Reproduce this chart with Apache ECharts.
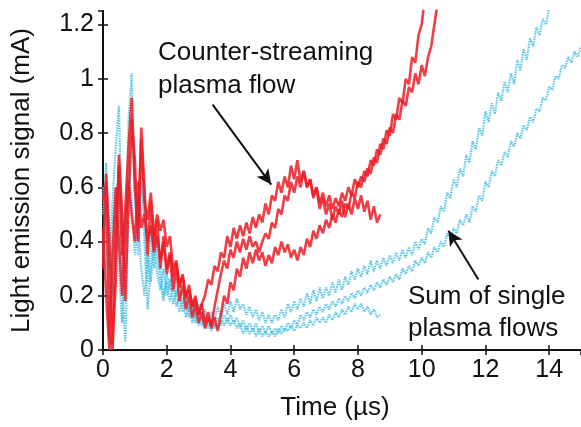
<!DOCTYPE html>
<html><head><meta charset="utf-8">
<script src="https://cdn.jsdelivr.net/npm/echarts@6/dist/echarts.min.js"></script>
<style>html,body{margin:0;padding:0;background:#fff}#c{width:581px;height:427px}</style>
</head><body><div id="c"></div>
<script>
// sample step of all traces (µs); every trace starts at t = 0
const DT = 0.1;
const xTicks = [0, 2, 4, 6, 8, 10, 12, 14];
const yTicks = [0, 0.2, 0.4, 0.6, 0.8, 1, 1.2];

// Counter-streaming plasma flow (red), three shots
const red1 = [
0.55,0.62,0.05,0.0,0.45,0.68,0.35,0.52,0.75,0.93,
0.6,0.45,0.78,0.55,0.48,0.58,0.42,0.5,0.44,0.48,
0.38,0.42,0.3,0.33,0.24,0.28,0.2,0.22,0.16,0.19,
0.13,0.17,0.2,0.26,0.24,0.31,0.29,0.36,0.34,0.42,
0.38,0.45,0.41,0.46,0.42,0.47,0.43,0.49,0.45,0.5,
0.47,0.54,0.5,0.57,0.55,0.62,0.58,0.64,0.6,0.68,
0.63,0.7,0.62,0.66,0.6,0.63,0.57,0.6,0.54,0.58,
0.53,0.57,0.52,0.56,0.53,0.58,0.55,0.6,0.57,0.63,
0.6,0.64,0.62,0.67,0.65,0.71,0.69,0.76,0.74,0.81,
0.79,0.87,0.85,0.93,0.91,1.0,0.98,1.08,1.06,1.16,
1.2,1.3];
const red2 = [
0.3,0.65,0.4,0.02,0.25,0.72,0.5,0.18,0.55,0.85,
0.7,0.4,0.82,0.6,0.35,0.55,0.38,0.48,0.3,0.42,
0.28,0.35,0.22,0.3,0.18,0.24,0.15,0.2,0.12,0.17,
0.1,0.14,0.08,0.12,0.09,0.16,0.22,0.28,0.33,0.3,
0.37,0.34,0.4,0.36,0.41,0.37,0.42,0.38,0.4,0.36,
0.4,0.43,0.41,0.47,0.45,0.52,0.5,0.57,0.55,0.62,
0.58,0.64,0.6,0.66,0.6,0.63,0.56,0.6,0.52,0.56,
0.5,0.54,0.48,0.53,0.5,0.55,0.49,0.54,0.5,0.56,
0.52,0.57,0.51,0.55,0.48,0.53,0.47,0.5];
const red3 = [
0.45,0.2,0.0,0.35,0.6,0.4,0.2,0.45,0.62,0.5,
0.4,0.62,0.45,0.5,0.4,0.46,0.36,0.42,0.33,0.4,
0.3,0.36,0.27,0.32,0.23,0.27,0.19,0.24,0.16,0.2,
0.13,0.17,0.1,0.14,0.08,0.12,0.07,0.13,0.2,0.17,
0.25,0.22,0.3,0.27,0.34,0.3,0.36,0.32,0.37,0.33,
0.36,0.31,0.35,0.32,0.38,0.35,0.4,0.36,0.39,0.34,
0.37,0.33,0.38,0.35,0.41,0.38,0.44,0.41,0.46,0.43,
0.48,0.45,0.5,0.47,0.52,0.49,0.54,0.52,0.58,0.56,
0.62,0.6,0.66,0.64,0.7,0.68,0.74,0.72,0.78,0.76,
0.82,0.8,0.87,0.85,0.92,0.9,0.97,0.95,1.02,0.98,
1.05,1.01,1.08,1.12,1.2,1.28];

// Sum of single plasma flows (cyan), three shots
const cyan1 = [
0.5,0.69,0.3,0.55,0.75,0.9,0.4,0.2,0.85,1.02,
0.55,0.4,0.71,0.4,0.15,0.3,0.45,0.35,0.25,0.18,
0.28,0.22,0.3,0.2,0.25,0.16,0.22,0.14,0.19,0.12,
0.17,0.11,0.15,0.1,0.14,0.11,0.16,0.12,0.17,0.13,
0.18,0.14,0.19,0.15,0.17,0.13,0.16,0.12,0.15,0.11,
0.14,0.1,0.13,0.1,0.13,0.11,0.15,0.12,0.17,0.14,
0.18,0.15,0.19,0.16,0.21,0.17,0.22,0.18,0.23,0.19,
0.23,0.2,0.25,0.21,0.26,0.22,0.27,0.24,0.29,0.26,
0.3,0.27,0.31,0.28,0.33,0.29,0.33,0.3,0.34,0.31,
0.35,0.32,0.36,0.33,0.37,0.34,0.38,0.35,0.4,0.37,
0.41,0.39,0.45,0.43,0.49,0.47,0.53,0.51,0.58,0.56,
0.63,0.6,0.67,0.64,0.72,0.69,0.77,0.74,0.82,0.79,
0.88,0.84,0.91,0.87,0.95,0.92,0.99,0.95,1.02,0.98,
1.07,1.03,1.11,1.07,1.15,1.12,1.19,1.16,1.22,1.2,
1.26,1.3];
const cyan2 = [
0.35,0.6,0.45,0.2,0.5,0.65,0.25,0.03,0.5,0.8,
0.6,0.35,0.62,0.5,0.25,0.45,0.3,0.42,0.3,0.2,
0.25,0.18,0.24,0.16,0.2,0.14,0.18,0.12,0.16,0.1,
0.14,0.09,0.12,0.08,0.11,0.08,0.12,0.09,0.13,0.1,
0.13,0.1,0.12,0.08,0.11,0.07,0.1,0.07,0.1,0.06,
0.09,0.06,0.09,0.06,0.08,0.06,0.09,0.07,0.1,0.08,
0.11,0.09,0.13,0.11,0.14,0.12,0.15,0.13,0.16,0.14,
0.17,0.15,0.18,0.16,0.19,0.17,0.2,0.18,0.21,0.19,
0.22,0.2,0.23,0.21,0.24,0.22,0.25,0.23,0.26,0.24,
0.27,0.25,0.28,0.26,0.3,0.28,0.31,0.29,0.33,0.31,
0.34,0.32,0.36,0.34,0.38,0.36,0.4,0.38,0.43,0.41,
0.45,0.43,0.48,0.46,0.5,0.47,0.53,0.51,0.57,0.55,
0.62,0.6,0.66,0.64,0.7,0.68,0.73,0.71,0.77,0.75,
0.8,0.78,0.83,0.81,0.86,0.84,0.89,0.88,0.93,0.92,
0.97,0.96,1.01,1.0,1.05,1.04,1.08,1.06,1.1,1.08,
1.12];
const cyan3 = [
0.6,0.4,0.15,0.45,0.6,0.3,0.1,0.35,0.7,0.55,
0.35,0.5,0.3,0.2,0.35,0.25,0.38,0.28,0.22,0.3,
0.2,0.26,0.17,0.22,0.14,0.19,0.12,0.16,0.1,0.14,
0.09,0.12,0.08,0.11,0.07,0.1,0.08,0.11,0.09,0.12,
0.09,0.11,0.08,0.1,0.06,0.09,0.06,0.08,0.05,0.08,
0.05,0.07,0.05,0.07,0.05,0.08,0.06,0.08,0.07,0.09,
0.07,0.09,0.08,0.1,0.08,0.11,0.09,0.12,0.1,0.12,
0.1,0.13,0.11,0.14,0.12,0.15,0.13,0.16,0.14,0.17,
0.15,0.17,0.14,0.16,0.13,0.15,0.12,0.13];

// annotation arrows in data coordinates: [tail, head]
const arrowCounter = [[3.44, 0.905], [5.28, 0.61]];
const arrowSum = [[11.78, 0.26], [10.84, 0.44]];

const RED = '#ec1c24', CYAN = '#4cc1e7';
const FONT = 'Liberation Sans';

function pairs(vals){ return vals.map((v,i)=>[Math.round(i*DT*100)/100, v]); }

function redSeries(vals){
  return {type:'line', data:pairs(vals), showSymbol:false, symbol:'none', animation:false,
    lineStyle:{color:RED, width:2.6, opacity:0.85, join:'bevel'}, z:3};
}
function cyanSeries(vals){
  return {type:'line', data:pairs(vals), showSymbol:false, symbol:'none', animation:false,
    lineStyle:{color:CYAN, width:2.2, type:[1.5,1], opacity:0.9}, z:2};
}

const axisCommon = {
  type:'value', min:0, splitLine:{show:false},
  axisLine:{show:true, lineStyle:{color:'#111', width:2}},
  axisTick:{show:true, inside:true, length:5, lineStyle:{color:'#111', width:1.5}}
};

const chart = echarts.init(document.getElementById('c'), null, {renderer:'canvas'});
const series = [cyanSeries(cyan1), cyanSeries(cyan2), cyanSeries(cyan3),
  redSeries(red1), redSeries(red2), redSeries(red3)];
series.push({type:'line', data:[], animation:false, silent:true,
  markLine:{silent:true, animation:false, symbol:['none','arrow'], symbolSize:[11,15],
    label:{show:false}, lineStyle:{color:'#111', width:2, type:'solid'},
    data:[[{coord:arrowCounter[0]},{coord:arrowCounter[1]}],[{coord:arrowSum[0]},{coord:arrowSum[1]}]]}});

chart.setOption({
  backgroundColor:'#fff',
  animation:false,
  grid:{left:103, top:11, width:480, height:339},
  xAxis:[
    Object.assign({}, axisCommon, {max:15, interval:2, position:'bottom',
      name:'Time (µs)', nameLocation:'middle', nameGap:45,
      nameTextStyle:{fontFamily:FONT, fontSize:26, color:'#111', padding:[0,14,0,0]},
      axisLabel:{fontFamily:FONT, fontSize:25, color:'#111', margin:8, showMaxLabel:false,
        formatter:v=>xTicks.includes(v)?String(v):''}}),
    Object.assign({}, axisCommon, {max:15, interval:2, position:'top', axisLabel:{show:false}})
  ],
  yAxis:[
    Object.assign({}, axisCommon, {max:1.25, interval:0.2, position:'left',
      name:'Light emission signal (mA)', nameLocation:'middle', nameGap:68, nameRotate:90,
      nameTextStyle:{fontFamily:FONT, fontSize:26, color:'#111'},
      axisLabel:{fontFamily:FONT, fontSize:25, color:'#111', margin:9, showMaxLabel:false,
        formatter:v=>yTicks.some(t=>Math.abs(t-v)<1e-9)?String(Math.round(v*10)/10):''}}),
    Object.assign({}, axisCommon, {max:1.25, interval:0.2, position:'right', axisLabel:{show:false}})
  ],
  graphic:[
    {type:'text', left:158, top:36, style:{text:'Counter-streaming\nplasma flow', font:'26px "Liberation Sans"', fill:'#111', lineHeight:33}},
    {type:'text', left:408, top:281, style:{text:'Sum of single\nplasma flows', font:'26px "Liberation Sans"', fill:'#111', lineHeight:32}}
  ],
  series: series
});
</script></body></html>
